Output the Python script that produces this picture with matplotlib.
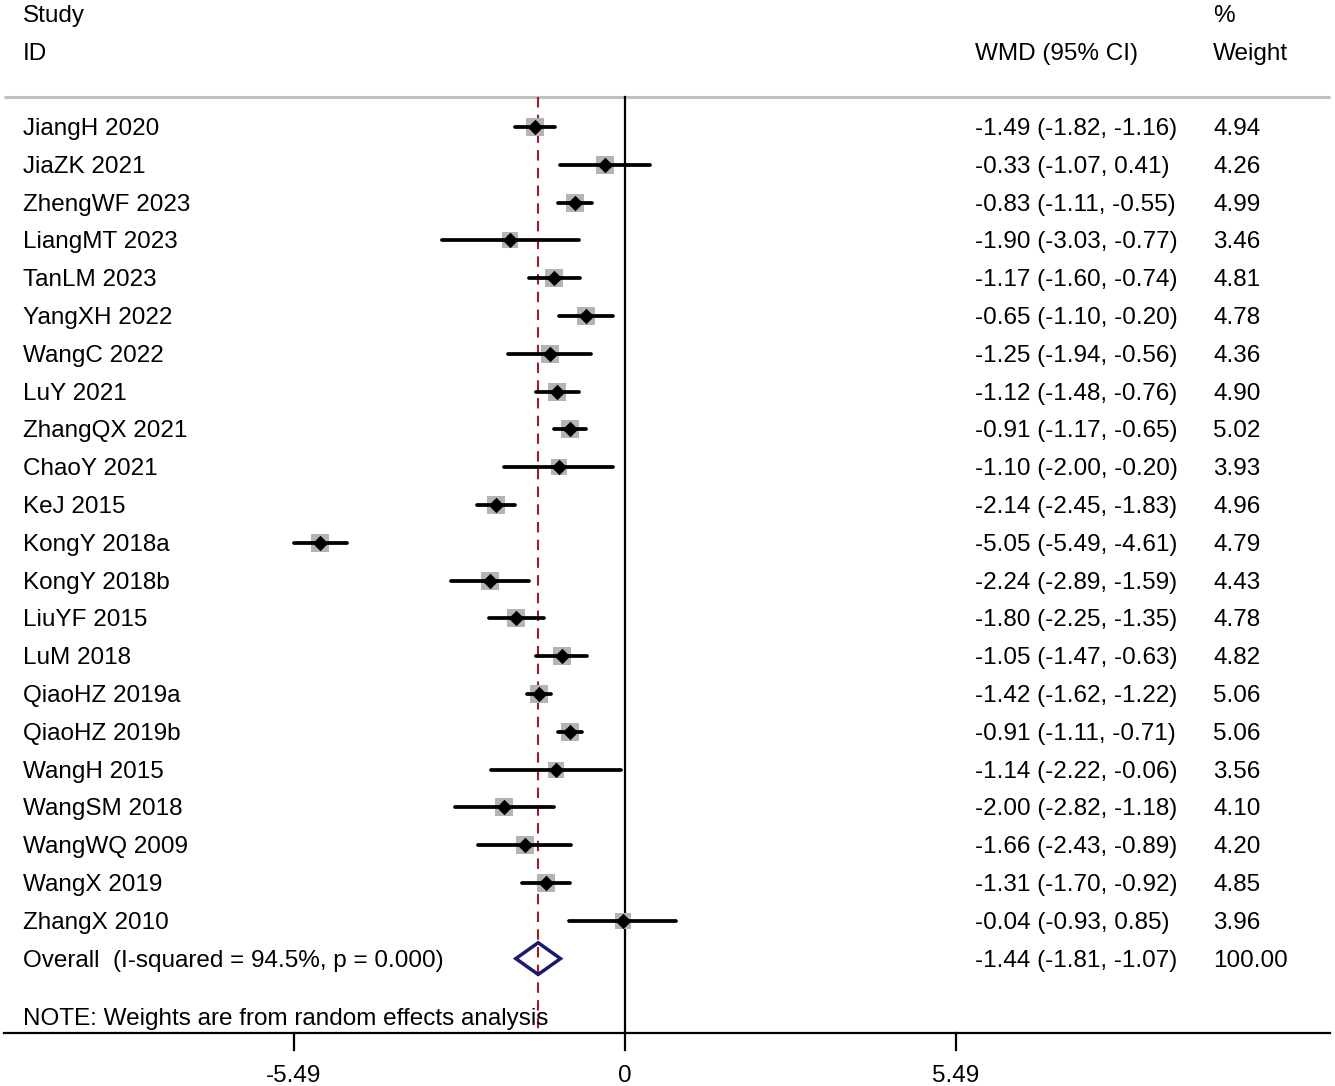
import matplotlib
matplotlib.use("Agg")
import matplotlib.pyplot as plt
from matplotlib.patches import Polygon
import numpy as np

# 연구별 데이터
studies = ["JiangH 2020", "JiaZK 2021", "ZhengWF 2023", "LiangMT 2023", "TanLM 2023",
           "YangXH 2022", "WangC 2022", "LuY 2021", "ZhangQX 2021", "ChaoY 2021",
           "KeJ 2015", "KongY 2018a", "KongY 2018b", "LiuYF 2015", "LuM 2018",
           "QiaoHZ 2019a", "QiaoHZ 2019b", "WangH 2015", "WangSM 2018", "WangWQ 2009",
           "WangX 2019", "ZhangX 2010"]
wmd = [-1.49, -0.33, -0.83, -1.90, -1.17, -0.65, -1.25, -1.12, -0.91, -1.10,
       -2.14, -5.05, -2.24, -1.80, -1.05, -1.42, -0.91, -1.14, -2.00, -1.66,
       -1.31, -0.04]
lower = [-1.82, -1.07, -1.11, -3.03, -1.60, -1.10, -1.94, -1.48, -1.17, -2.00,
         -2.45, -5.49, -2.89, -2.25, -1.47, -1.62, -1.11, -2.22, -2.82, -2.43,
         -1.70, -0.93]
upper = [-1.16, 0.41, -0.55, -0.77, -0.74, -0.20, -0.56, -0.76, -0.65, -0.20,
         -1.83, -4.61, -1.59, -1.35, -0.63, -1.22, -0.71, -0.06, -1.18, -0.89,
         -0.92, 0.85]
weights = [4.94, 4.26, 4.99, 3.46, 4.81, 4.78, 4.36, 4.90, 5.02, 3.93,
           4.96, 4.79, 4.43, 4.78, 4.82, 5.06, 5.06, 3.56, 4.10, 4.20,
           4.85, 3.96]

overall = (-1.44, -1.81, -1.07)
overall_label = "Overall  (I-squared = 94.5%, p = 0.000)"
note = "NOTE: Weights are from random effects analysis"
xticks = [-5.49, 0, 5.49]
xtick_labels = ["-5.49", "0", "5.49"]

plt.rcParams['font.family'] = ['Liberation Sans', 'DejaVu Sans']
FS = 17.5

W, H = 1335, 1086
fig = plt.figure(figsize=(W / 100, H / 100), dpi=100)
ax = fig.add_axes([0, 0, 1, 1])

# 픽셀 -> 데이터 좌표 맞춤
x0_px, ppu = 625.0, 60.3
y0_px, row_px = 127.0, 37.8
ax.set_xlim((0 - x0_px) / ppu, (W - x0_px) / ppu)
ax.set_ylim((H - y0_px) / row_px, (0 - y0_px) / row_px)
ax.axis('off')

def px_x(p):
    return (p - x0_px) / ppu

def px_y(p):
    return (p - y0_px) / row_px

n = len(studies)
rows = np.arange(n)
top = px_y(97)
bottom = px_y(1033)
dy = 2 / row_px  # 글자 세로 보정

def label(x, y, s, **kw):
    ax.text(x, y + dy, s, fontsize=FS, va='center', **kw)

# 헤더
label(px_x(23), px_y(14), "Study")
label(px_x(23), px_y(52), "ID")
label(px_x(975), px_y(52), "WMD (95% CI)")
label(px_x(1213), px_y(14), "%")
label(px_x(1213), px_y(52), "Weight")
ax.plot([px_x(4), px_x(1330)], [top, top], color='#c0c0c0', lw=2.2, solid_capstyle='butt')

# 기준선
ax.plot([0, 0], [top, bottom], color='black', lw=1.6)
ax.plot([overall[0], overall[0]], [top, bottom], color='#a01c22', lw=1.5,
        dashes=(5, 3.5))

# 연구별 표시
for i in range(n):
    side_px = 8.4 * np.sqrt(weights[i])
    ax.scatter(wmd[i], rows[i], marker='s', s=(side_px * 0.72) ** 2,
               color='#b4b4b4', zorder=3, linewidths=0)
    ax.plot([lower[i], upper[i]], [rows[i], rows[i]], color='black', lw=2.7,
            solid_capstyle='round', zorder=4)
    ax.scatter(wmd[i], rows[i], marker='D', s=62, color='black', zorder=5,
               linewidths=0)
    label(px_x(23), rows[i], studies[i])
    label(px_x(975), rows[i], "%.2f (%.2f, %.2f)" % (wmd[i], lower[i], upper[i]))
    label(px_x(1213), rows[i], "%.2f" % weights[i])

# 전체 효과
yo = n
dh = 0.42
diamond = Polygon([[overall[1], yo], [overall[0], yo - dh], [overall[2], yo],
                   [overall[0], yo + dh]], closed=True, fill=False,
                  edgecolor='#1a1a6e', lw=2.5, zorder=6)
ax.add_patch(diamond)
label(px_x(23), yo, overall_label)
label(px_x(975), yo, "%.2f (%.2f, %.2f)" % overall)
label(px_x(1213), yo, "100.00")

label(px_x(23), px_y(1017), note)

# x축
ax.plot([px_x(4), px_x(1330)], [bottom, bottom], color='black', lw=1.6)
tick_len = px_y(1050) - bottom
for t, lab in zip(xticks, xtick_labels):
    ax.plot([t, t], [bottom, bottom + tick_len], color='black', lw=1.6)
    label(t, px_y(1074), lab, ha='center')

fig.savefig("out.png", dpi=100)
